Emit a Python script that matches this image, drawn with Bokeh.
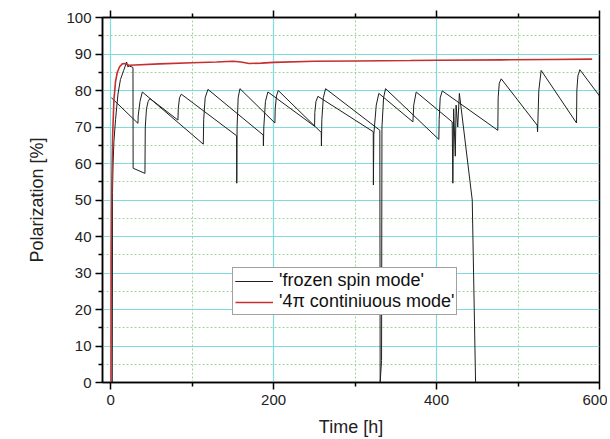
from bokeh.plotting import figure
from bokeh.models import (Range1d, FixedTicker, LinearAxis, Legend, LegendItem,
                          CustomJSTickFormatter)
from bokeh.embed import file_html
from bokeh.resources import INLINE

# ---- data ----
x_ticks = [0, 200, 400, 600]
x_minor = [100, 300, 500]
y_ticks = [0, 10, 20, 30, 40, 50, 60, 70, 80, 90, 100]
y_minor = [5, 15, 25, 35, 45, 55, 65, 75, 85, 95]

# 'frozen spin mode' - first pass
frozen_a_t = [1, 33.5, 33.8, 36, 38.9, 113.7, 114.2, 116, 119.4, 187.3, 187.5,
              188, 190, 193, 250.3, 250.6, 252, 254.4, 322.3, 322.5, 323, 326,
              329.2, 371, 372, 375, 419.2, 420, 421, 423, 424, 426, 428, 443.8,
              447.9, 456]
frozen_a_p = [78, 71, 73, 77, 79.6, 65.3, 72, 78, 80.3, 67.8, 64.8,
              70, 77, 79.6, 70.2, 74, 77, 78.4, 68.7, 54.1, 68, 76,
              79.2, 71.4, 76, 79.6, 71.4, 54.6, 75, 62, 76, 70, 79.2, 50,
              0, 0]

# 'frozen spin mode' - second pass
frozen_b_t = [2, 2.3, 3, 4, 6, 9, 12, 16, 19.6, 21, 23, 26.6, 27.4, 27.6,
              42.1, 42.5, 44, 46, 48.2, 82.6, 83, 84.5, 86.7, 154.6, 154.8,
              155.2, 156.5, 158.7, 201.6, 202, 203.5, 205.7, 258.5, 258.7,
              259.2, 261, 263.8, 330.4, 330.8, 332.5, 333, 335, 337.4, 402.8,
              403.2, 404.5, 407, 475.2, 475.6, 477, 479.4, 523.5, 524, 525.5,
              528.4, 571.8, 572.2, 573.5, 575.9, 600]
frozen_b_p = [0, 52, 60, 66, 72, 79, 83, 85.5, 87.8, 86.5, 86.7, 86.4, 86.3, 58.7,
              57.3, 70, 75, 77, 77.8, 71.9, 75, 78, 79, 67.6, 54.6,
              70, 78, 80.5, 71.1, 75, 78.5, 80, 68.5, 64.8,
              72, 78, 80.5, 69.1, 0, 6, 70, 78, 80.5, 66.6,
              72, 78, 79.9, 69.1, 78, 82, 83.2, 70.5, 68.7, 80,
              85.5, 71.1, 80, 84, 85.7, 78.5]

# '4pi continiuous mode'
cont_t = [0.5, 0.7, 1.5, 2.5, 4, 6, 8.2, 11, 14.3, 18, 22, 30, 60, 100, 130,
          150, 160, 170, 185, 200, 250, 300, 368, 400, 480, 540, 591]
cont_p = [0, 35, 55, 68, 77.3, 82.5, 85, 86.5, 87.3, 87.4, 86.9, 87.0, 87.3,
          87.6, 87.8, 88.0, 87.8, 87.4, 87.5, 87.7, 88.0, 88.1, 88.2, 88.3,
          88.4, 88.5, 88.6]

assert len(frozen_a_t) == len(frozen_a_p)
assert len(frozen_b_t) == len(frozen_b_p)
assert len(cont_t) == len(cont_p)

FONT = "Liberation Sans"

p = figure(width=607, height=439, output_backend="svg", toolbar_location=None,
           x_range=Range1d(-10, 600), y_range=Range1d(0, 100),
           min_border_left=102, min_border_right=8, min_border_top=17,
           min_border_bottom=56, x_axis_label="Time [h]",
           y_axis_label="Polarization [%]")

p.background_fill_color = "white"
p.outline_line_color = "black"
p.outline_line_width = 1.5

xt = FixedTicker(ticks=x_ticks, minor_ticks=x_minor)
yt = FixedTicker(ticks=y_ticks, minor_ticks=y_minor)
p.xaxis.ticker = xt
p.yaxis.ticker = yt

for ax in (p.xaxis[0], p.yaxis[0]):
    ax.axis_line_color = "black"
    ax.axis_line_width = 1.5
    ax.major_tick_line_color = "black"
    ax.major_tick_line_width = 1.5
    ax.minor_tick_line_color = "black"
    ax.minor_tick_line_width = 1.5
    ax.major_tick_in = 0
    ax.major_tick_out = 7
    ax.minor_tick_in = 0
    ax.minor_tick_out = 4
    ax.major_label_text_font = FONT
    ax.major_label_text_font_size = "15px"
    ax.major_label_text_color = "#222222"
    ax.axis_label_text_font = FONT
    ax.axis_label_text_font_size = "18px"
    ax.axis_label_text_font_style = "normal"
    ax.axis_label_text_color = "#222222"

p.xaxis.major_label_standoff = 5
p.xaxis.axis_label_standoff = 9
p.yaxis.major_label_standoff = 4
p.yaxis.axis_label_standoff = 16

top = LinearAxis(ticker=FixedTicker(ticks=x_ticks, minor_ticks=x_minor),
                 formatter=CustomJSTickFormatter(code="return ''"),
                 axis_line_color="black", axis_line_width=1.5,
                 major_tick_line_color="black", major_tick_line_width=1.5,
                 minor_tick_line_color="black", minor_tick_line_width=1.5,
                 major_tick_in=0, major_tick_out=7, minor_tick_in=0, minor_tick_out=4,
                 major_label_standoff=0)
p.add_layout(top, "above")

# grids
p.xgrid.ticker = xt
p.ygrid.ticker = yt
for g in (p.xgrid[0], p.ygrid[0]):
    g.grid_line_color = "#7fdcdc"
    g.grid_line_width = 1.2
    g.minor_grid_line_color = "#9fd49f"
    g.minor_grid_line_dash = "2 2"
    g.minor_grid_line_width = 1

ra = p.line(frozen_a_t, frozen_a_p, line_color="#1e1e1e", line_width=1)
rb = p.line(frozen_b_t, frozen_b_p, line_color="#1e1e1e", line_width=1)
rc = p.line(cont_t, cont_p, line_color="#c62f2f", line_width=1.6)

legend = Legend(items=[LegendItem(label="'frozen spin mode'", renderers=[ra, rb]),
                       LegendItem(label="'4\u03c0 continiuous mode'", renderers=[rc])],
                location=(130, 67), label_text_font=FONT, label_text_font_size="18px",
                label_text_color="#111111", glyph_width=38, glyph_height=20,
                label_height=20, label_standoff=6, spacing=0, padding=2, margin=0,
                border_line_color="#444444", border_line_width=1,
                background_fill_color="white", background_fill_alpha=1)
p.add_layout(legend, "center")

open("out.html", "w").write(file_html(p, INLINE))
